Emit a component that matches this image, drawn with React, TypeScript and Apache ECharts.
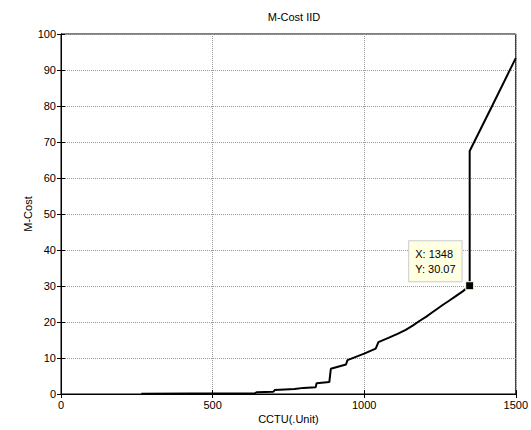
import React, { useEffect, useRef } from "react";
import * as echarts from "echarts";

const titleText = "M-Cost IID";
const xName = "CCTU(.Unit)";
const yName = "M-Cost";
const xValues = [265, 430, 640, 645, 700, 705, 770, 800, 840, 843, 885, 890, 940, 945, 1000, 1038, 1047, 1080, 1110, 1137, 1160, 1181, 1205, 1225, 1245, 1260, 1280, 1301, 1325, 1348, 1348, 1422, 1500];
const yValues = [0.1, 0.15, 0.2, 0.5, 0.6, 1.1, 1.4, 1.7, 1.9, 3.0, 3.3, 7.0, 8.2, 9.4, 11.2, 12.6, 14.4, 15.6, 16.7, 17.8, 19.0, 20.2, 21.5, 22.7, 23.9, 24.8, 25.9, 27.1, 28.5, 30.07, 67.5, 80.0, 93.3];
const tipPoint = [1348, 30.07];

const FONT = "'Liberation Sans', Arial, sans-serif";

export default function App() {
  const ref = useRef<HTMLDivElement>(null);
  useEffect(() => {
    if (!ref.current) return;
    const chart = echarts.init(ref.current, null, { renderer: "svg" });
    const data = xValues.map((x, i) => [x, yValues[i]]);
    const baseX = {
      type: "value" as const,
      min: 0,
      max: 1500,
      interval: 500,
    };
    const baseY = {
      type: "value" as const,
      min: 0,
      max: 100,
      interval: 10,
    };
    chart.setOption({
      animation: false,
      backgroundColor: "#fff",
      textStyle: { fontFamily: FONT },
      title: {
        text: titleText,
        left: 289,
        textAlign: "center",
        top: 6,
        textStyle: { fontSize: 11, fontWeight: "normal", color: "#000", fontFamily: FONT },
      },
      grid: {
        left: 61,
        right: 14,
        top: 34,
        bottom: 36,
        show: true,
        borderColor: "#000",
        borderWidth: 1,
        backgroundColor: "#fff",
      },
      xAxis: [
        {
          ...baseX,
          position: "bottom",
          name: xName,
          nameLocation: "middle",
          nameGap: 19,
          nameMoveOverlap: false,
          nameTextStyle: { fontSize: 11, color: "#000", fontFamily: FONT },
          axisLine: { show: true, lineStyle: { color: "#000", width: 1 } },
          axisTick: { show: true, inside: true, length: 4, lineStyle: { color: "#000" } },
          axisLabel: { fontSize: 11, color: "#000", margin: 5, fontFamily: FONT, formatter: (v: number) => String(v) },
          splitLine: { show: true, lineStyle: { color: "#999", type: "dotted", width: 1 } },
        },
        {
          ...baseX,
          position: "top",
          axisLine: { show: true, lineStyle: { color: "#000", width: 1 } },
          axisTick: { show: true, inside: true, length: 4, lineStyle: { color: "#000" } },
          axisLabel: { show: false },
          splitLine: { show: false },
        },
      ],
      yAxis: [
        {
          ...baseY,
          position: "left",
          name: yName,
          nameLocation: "middle",
          nameGap: 28,
          nameMoveOverlap: false,
          nameTextStyle: { fontSize: 11, color: "#000", fontFamily: FONT },
          axisLine: { show: true, lineStyle: { color: "#000", width: 1 } },
          axisTick: { show: true, inside: true, length: 4, lineStyle: { color: "#000" } },
          axisLabel: { fontSize: 11, color: "#000", margin: 5, fontFamily: FONT },
          splitLine: { show: true, lineStyle: { color: "#999", type: "dotted", width: 1 } },
        },
        {
          ...baseY,
          position: "right",
          axisLine: { show: true, lineStyle: { color: "#000", width: 1 } },
          axisTick: { show: true, inside: true, length: 4, lineStyle: { color: "#000" } },
          axisLabel: { show: false },
          splitLine: { show: false },
        },
      ],
      series: [
        {
          type: "line",
          xAxisIndex: 0,
          yAxisIndex: 0,
          data,
          showSymbol: false,
          symbol: "none",
          lineStyle: { color: "#000", width: 2 },
          clip: true,
          markPoint: {
            symbol: "rect",
            symbolSize: 8,
            itemStyle: { color: "#000", borderColor: "#ffffcc", borderWidth: 1 },
            label: {
              show: true,
              position: [-56, -40],
              align: "left",
              verticalAlign: "top",
              formatter: "X: " + tipPoint[0] + "\nY: " + tipPoint[1].toFixed(2),
              fontSize: 11,
              lineHeight: 15,
              color: "#000",
              fontFamily: FONT,
              backgroundColor: "#ffffe1",
              borderColor: "#cccccc",
              borderWidth: 1,
              padding: [5, 6, 5, 6],
            },
            data: [{ coord: tipPoint }],
          },
        },
      ],
    });
    return () => chart.dispose();
  }, []);
  return (
    <div
      ref={ref}
      style={{ position: "absolute", left: 0, top: 0, width: 531, height: 430 }}
    />
  );
}
